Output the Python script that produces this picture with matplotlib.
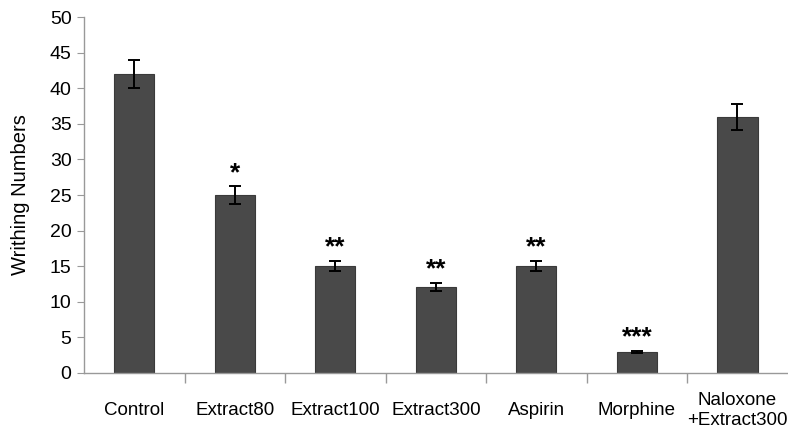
import numpy as np
import matplotlib.pyplot as plt

plt.rcParams['font.family'] = ['Liberation Sans', 'DejaVu Sans']

# data
groups = ['Control', 'Extract80', 'Extract100', 'Extract300', 'Aspirin', 'Morphine',
          'Naloxone\n+Extract300']
means = [42, 25, 15, 12.1, 15, 2.9, 36]
errors = [2.0, 1.2, 0.7, 0.6, 0.7, 0.15, 1.8]
stars = ['', '*', '**', '**', '**', '***', '']

fig = plt.figure(figsize=(7.88, 4.33), dpi=100)
ax = fig.add_axes([0.1066, 0.1386, 0.893, 0.822])

x = np.arange(len(groups))
ax.bar(x, means, width=0.4, color='#494949', edgecolor='#3a3a3a', linewidth=0.8,
       yerr=errors, capsize=4, error_kw=dict(ecolor='black', elinewidth=1.4, capthick=1.4))

# significance marks
for xi, m, e, s in zip(x, means, errors, stars):
    if s:
        ax.text(xi, m + e + 1.9, s, ha='center', va='center', fontsize=19, fontweight='bold')

ax.set_xlim(-0.5, len(groups) - 0.5)
ax.set_ylim(0, 50)
ax.set_yticks(np.arange(0, 51, 5))
ax.set_xticks(x)
ax.set_xticklabels(groups, fontsize=13.5)
for lab in ax.get_xticklabels():
    lab.set_va('center')
ax.tick_params(axis='x', which='major', length=0, pad=27)
ax.set_xticks(np.arange(0.5, len(groups) - 0.5, 1), minor=True)
ax.tick_params(axis='x', which='minor', length=7, color='#999999', width=1)
ax.tick_params(axis='y', length=5, color='#999999', labelsize=14, pad=4)

ax.set_ylabel('Writhing Numbers', fontsize=14.5, labelpad=14)

for side in ['top', 'right']:
    ax.spines[side].set_visible(False)
for side in ['left', 'bottom']:
    ax.spines[side].set_color('#999999')
    ax.spines[side].set_linewidth(1)

fig.savefig('out.png', dpi=100)
